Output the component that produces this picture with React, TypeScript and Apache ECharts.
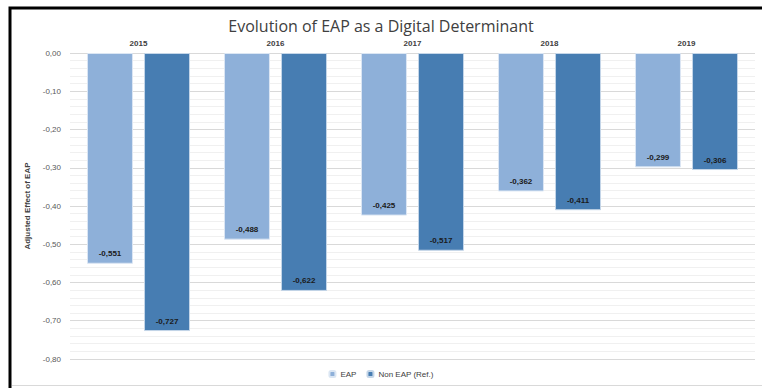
import React, { useEffect, useRef } from "react";
import * as echarts from "echarts";

const categories = ["2015", "2016", "2017", "2018", "2019"];
const eapValues = [-0.551, -0.488, -0.425, -0.362, -0.299];
const nonEapValues = [-0.727, -0.622, -0.517, -0.411, -0.306];
const seriesNames = ["EAP", "Non EAP (Ref.)"];
const title = "Evolution of EAP as a Digital Determinant";
const yAxisName = "Adjusted Effect of EAP";

const fmt3 = (v: number) => v.toFixed(3).replace(".", ",");
const fmt2 = (v: number) => v.toFixed(2).replace(".", ",");

export default function App() {
  const ref = useRef<HTMLDivElement>(null);
  useEffect(() => {
    if (!ref.current) return;
    const chart = echarts.init(ref.current, undefined, { renderer: "svg" });
    const labelStyle = {
      show: true,
      position: "insideBottom" as const,
      distance: 6,
      fontSize: 8,
      fontWeight: "bold" as const,
      color: "#1a1a1a",
      fontFamily: "Liberation Sans",
      formatter: (p: any) => fmt3(p.value),
    };
    chart.setOption({
      animation: false,
      backgroundColor: "#ffffff",
      title: {
        text: title,
        left: "center",
        top: 13,
        textStyle: { fontSize: 16, fontWeight: "normal", color: "#404040", fontFamily: "Open Sans" },
      },
      grid: { left: 70, right: 7, top: 53, bottom: 29 },
      legend: {
        bottom: 5,
        left: "center",
        itemWidth: 6,
        itemHeight: 6,
        itemGap: 10,
        textStyle: { fontSize: 8, color: "#404040", fontFamily: "Liberation Sans" },
        data: seriesNames,
      },
      xAxis: {
        type: "category",
        position: "top",
        data: categories,
        axisLine: { show: false },
        axisTick: { show: false },
        axisLabel: { fontSize: 8, fontWeight: "bold", color: "#404040", margin: 6, fontFamily: "Liberation Sans" },
      },
      yAxis: {
        type: "value",
        min: -0.8,
        max: 0,
        interval: 0.1,
        name: yAxisName,
        nameLocation: "middle",
        nameGap: 30,
        nameTextStyle: { fontSize: 8, fontWeight: "bold", color: "#404040", fontFamily: "Liberation Sans" },
        axisLine: { show: false },
        axisTick: { show: false },
        axisLabel: { fontSize: 8, color: "#595959", margin: 9, fontFamily: "Liberation Sans", formatter: (v: number) => fmt2(v) },
        splitLine: { show: true, lineStyle: { color: "#d9d9d9", width: 1 } },
        minorTick: { show: false, splitNumber: 5 },
        minorSplitLine: { show: true, lineStyle: { color: "#f0f0f0", width: 1 } },
      },
      series: [
        {
          name: seriesNames[0],
          type: "bar",
          data: eapValues,
          barWidth: 46,
          barGap: "24%",
          itemStyle: { color: "#8eb0d9", borderColor: "#dbe6f3", borderWidth: 1 },
          label: labelStyle,
        },
        {
          name: seriesNames[1],
          type: "bar",
          data: nonEapValues,
          barWidth: 46,
          itemStyle: { color: "#477db2", borderColor: "#c5d6e8", borderWidth: 1 },
          label: labelStyle,
        },
      ],
      graphic: [
        {
          type: "rect",
          shape: { x: 10, y: 8, width: 780, height: 400 },
          style: { fill: "none", stroke: "#000000", lineWidth: 3 },
          z: 100,
        },
        {
          type: "line",
          shape: { x1: 12, y1: 385.5, x2: 762, y2: 385.5 },
          style: { stroke: "#d9d9d9", lineWidth: 1 },
          z: 100,
        },
      ],
    });
    return () => chart.dispose();
  }, []);
  return <div ref={ref} style={{ position: "fixed", left: 0, top: 0, width: 762, height: 388 }} />;
}
